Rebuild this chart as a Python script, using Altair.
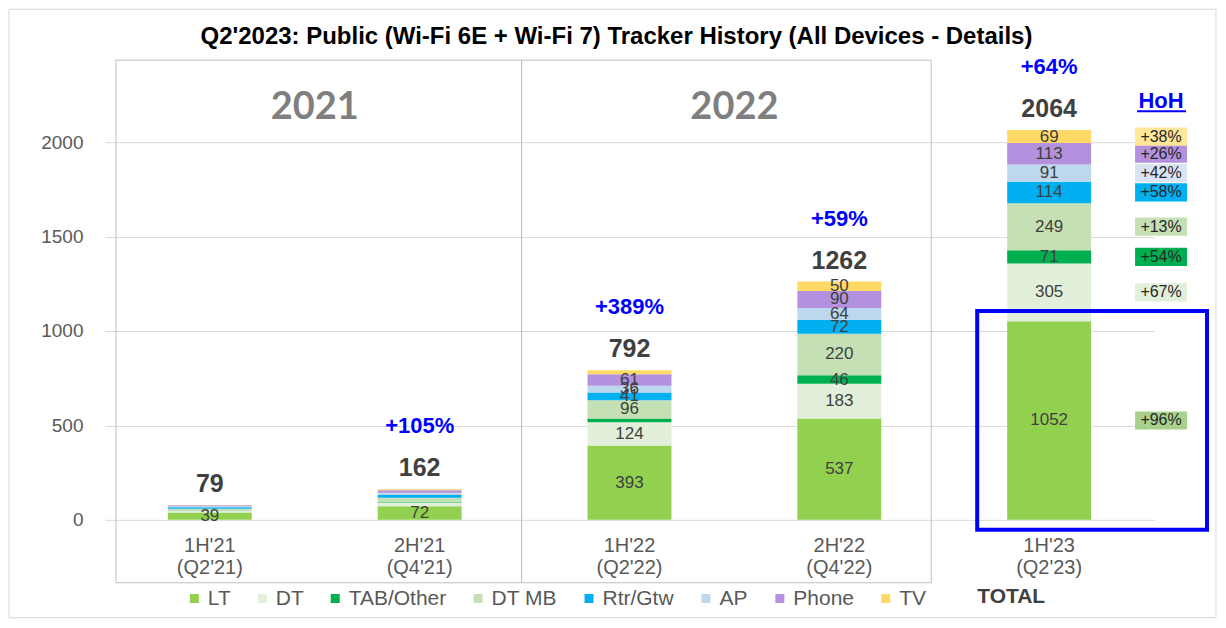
import altair as alt
import pandas as pd

# ---- data ----
title = "Q2'2023: Public (Wi-Fi 6E + Wi-Fi 7) Tracker History (All Devices - Details)"
periods = ["1H'21", "2H'21", "1H'22", "2H'22", "1H'23"]
quarters = ["(Q2'21)", "(Q4'21)", "(Q2'22)", "(Q4'22)", "(Q2'23)"]
series = ["LT", "DT", "TAB/Other", "DT MB", "Rtr/Gtw", "AP", "Phone", "TV"]
colors = ["#92D050", "#E2EFDA", "#00B050", "#C5E0B4", "#00B0F0", "#BDD7EE", "#B491DE", "#FFD966"]

lt = [39, 72, 393, 537, 1052]
dt = [10, 20, 124, 183, 305]
tab = [2, 3, 20, 46, 71]
dtmb = [8, 22, 96, 220, 249]
rtr = [8, 14, 41, 72, 114]
ap = [5, 12, 36, 64, 91]
phone = [5, 13, 61, 90, 113]
tv = [2, 6, 21, 50, 69]

totals = [79, 162, 792, 1262, 2064]
growth = ["", "+105%", "+389%", "+59%", "+64%"]
hoh = ["+96%", "+67%", "+54%", "+13%", "+58%", "+42%", "+26%", "+38%"]
hoh_colors = ["#A9D18E", "#E2EFDA", "#00B050", "#C5E0B4", "#00B0F0", "#DAE3F3", "#B491DE", "#FFE699"]
years = ["2021", "2022"]
year_first = ["1H'21", "1H'22"]

# ---- tables ----
cats = [f"{p} {q}" for p, q in zip(periods, quarters)]
vals = [lt, dt, tab, dtmb, rtr, ap, phone, tv]
rows = []
for i, cat in enumerate(cats):
    cum = 0
    for j, s in enumerate(series):
        v = vals[j][i]
        rows.append({"period": cat, "series": s, "value": v, "ord": j,
                     "mid": cum + v / 2, "show": v >= 30})
        cum += v
seg = pd.DataFrame(rows)
tot = pd.DataFrame({"period": cats, "total": totals, "growth": growth})
last = seg[seg["period"] == cats[-1]].copy()
last["hoh"] = hoh
last["hcol"] = hoh_colors
yrs = pd.DataFrame({"period": [cats[periods.index(f)] for f in year_first], "year": years})
one = pd.DataFrame({"a": [0]})

FONT = "Liberation Sans"
xsc = alt.Scale(domain=cats, paddingInner=0.6, paddingOuter=0.3)
ysc = alt.Scale(domain=[0, 2434], nice=False)

XAXIS = alt.Axis(title=None, labelExpr="split(datum.label, ' ')", labelAngle=0,
                 labelFontSize=20, labelColor="#595959", labelLineHeight=22,
                 labelPadding=16, domain=False, ticks=False, grid=False, labelFont=FONT)
YAXIS = alt.Axis(title=None, values=[0, 500, 1000, 1500, 2000], format="d", labelFontSize=19,
                 labelColor="#595959", grid=True, gridColor="#D9D9D9",
                 domain=False, ticks=False, labelPadding=22, labelFont=FONT)


def X(**kw):
    return alt.X("period:N", scale=xsc, sort=cats, axis=XAXIS, **kw)


def Y(field, **kw):
    return alt.Y(field, scale=ysc, axis=YAXIS, **kw)


bars = alt.Chart(seg).mark_bar().encode(
    x=X(),
    y=Y("value:Q", stack="zero"),
    color=alt.Color("series:N", sort=series, scale=alt.Scale(domain=series, range=colors),
                    legend=alt.Legend(title=None, orient="none", legendX=79, legendY=528,
                                      direction="horizontal", symbolType="square",
                                      symbolSize=81, symbolStrokeWidth=0,
                                      labelFontSize=21, labelColor="#595959", labelFont=FONT,
                                      columnPadding=21, labelOffset=3)),
    order=alt.Order("ord:Q", sort="ascending"),
)

seglabels = alt.Chart(seg).transform_filter("datum.show").mark_text(
    fontSize=17, color="#404040", font=FONT, baseline="middle").encode(
    x=X(), y=Y("mid:Q"), text="value:Q")

totlabels = alt.Chart(tot).mark_text(
    fontSize=25, fontWeight="bold", color="#404040", font=FONT, dy=-21, baseline="middle").encode(
    x=X(), y=Y("total:Q"), text="total:Q")

growlabels = alt.Chart(tot).transform_filter("datum.growth != ''").mark_text(
    fontSize=22, fontWeight="bold", color="#0000FF", font=FONT, dy=-63, baseline="middle").encode(
    x=X(), y=Y("total:Q"), text="growth:N")

hohbg = alt.Chart(last).mark_point(
    shape="M-1,-0.35H1V0.35H-1Z", size=2704, filled=True, opacity=1, strokeWidth=0,
    xOffset=112).encode(
    x=X(), y=Y("mid:Q"), fill=alt.Fill("hcol:N", scale=None))

hohtext = alt.Chart(last).mark_text(
    fontSize=16, color="#262626", font=FONT, dx=112, baseline="middle").encode(
    x=X(), y=Y("mid:Q"), text="hoh:N")

hohhead = alt.Chart(one).mark_text(
    text="HoH", fontSize=22, fontWeight="bold", color="#0000FF", font=FONT,
    baseline="middle").encode(x=alt.value(1057), y=alt.value(41))
hohline = alt.Chart(one).mark_rule(color="#0000FF", strokeWidth=2).encode(
    x=alt.value(1033), x2=alt.value(1082), y=alt.value(51))

yearlabels = alt.Chart(yrs).mark_text(
    fontSize=38, fontWeight="bold", color="#7F7F7F", font="Lato", baseline="middle",
    dx=105).encode(x=X(), y=alt.value(48), text="year:N")

titletext = alt.Chart(one).mark_text(
    text=title, fontSize=24, fontWeight="bold", color="#000000", font=FONT,
    baseline="middle", align="center").encode(x=alt.value(512), y=alt.value(-23))

frame = alt.Chart(one).mark_rect(fillOpacity=0, stroke="#D6D6D6", strokeWidth=1).encode(
    x=alt.value(-96), x2=alt.value(1112), y=alt.value(-51), y2=alt.value(558))
box21 = alt.Chart(one).mark_rect(fillOpacity=0, stroke="#BFBFBF", strokeWidth=1).encode(
    x=alt.value(11), x2=alt.value(417), y=alt.value(0), y2=alt.value(523))
box22 = alt.Chart(one).mark_rect(fillOpacity=0, stroke="#BFBFBF", strokeWidth=1).encode(
    x=alt.value(417), x2=alt.value(827), y=alt.value(0), y2=alt.value(523))
bluebox = alt.Chart(one).mark_rect(fillOpacity=0, stroke="#0000FF", strokeWidth=4).encode(
    x=alt.value(873), x2=alt.value(1103), y=alt.value(251), y2=alt.value(470))
totalword = alt.Chart(one).mark_text(
    text="TOTAL", fontSize=21, fontWeight="bold", color="#404040", font=FONT,
    baseline="middle").encode(x=alt.value(907), y=alt.value(537))

chart = alt.layer(
    frame, box21, box22, bars, seglabels, totlabels, growlabels, hohbg, hohtext,
    hohhead, hohline, yearlabels, bluebox, totalword, titletext,
).properties(
    width=1050, height=460,
    padding={"left": 97, "top": 52, "right": 64, "bottom": 100},
    autosize=alt.AutoSizeParams(type="none"),
).configure(font=FONT, background="white").configure_view(stroke=None)

chart.save("out.html", embed_options={"renderer": "svg", "actions": False})
